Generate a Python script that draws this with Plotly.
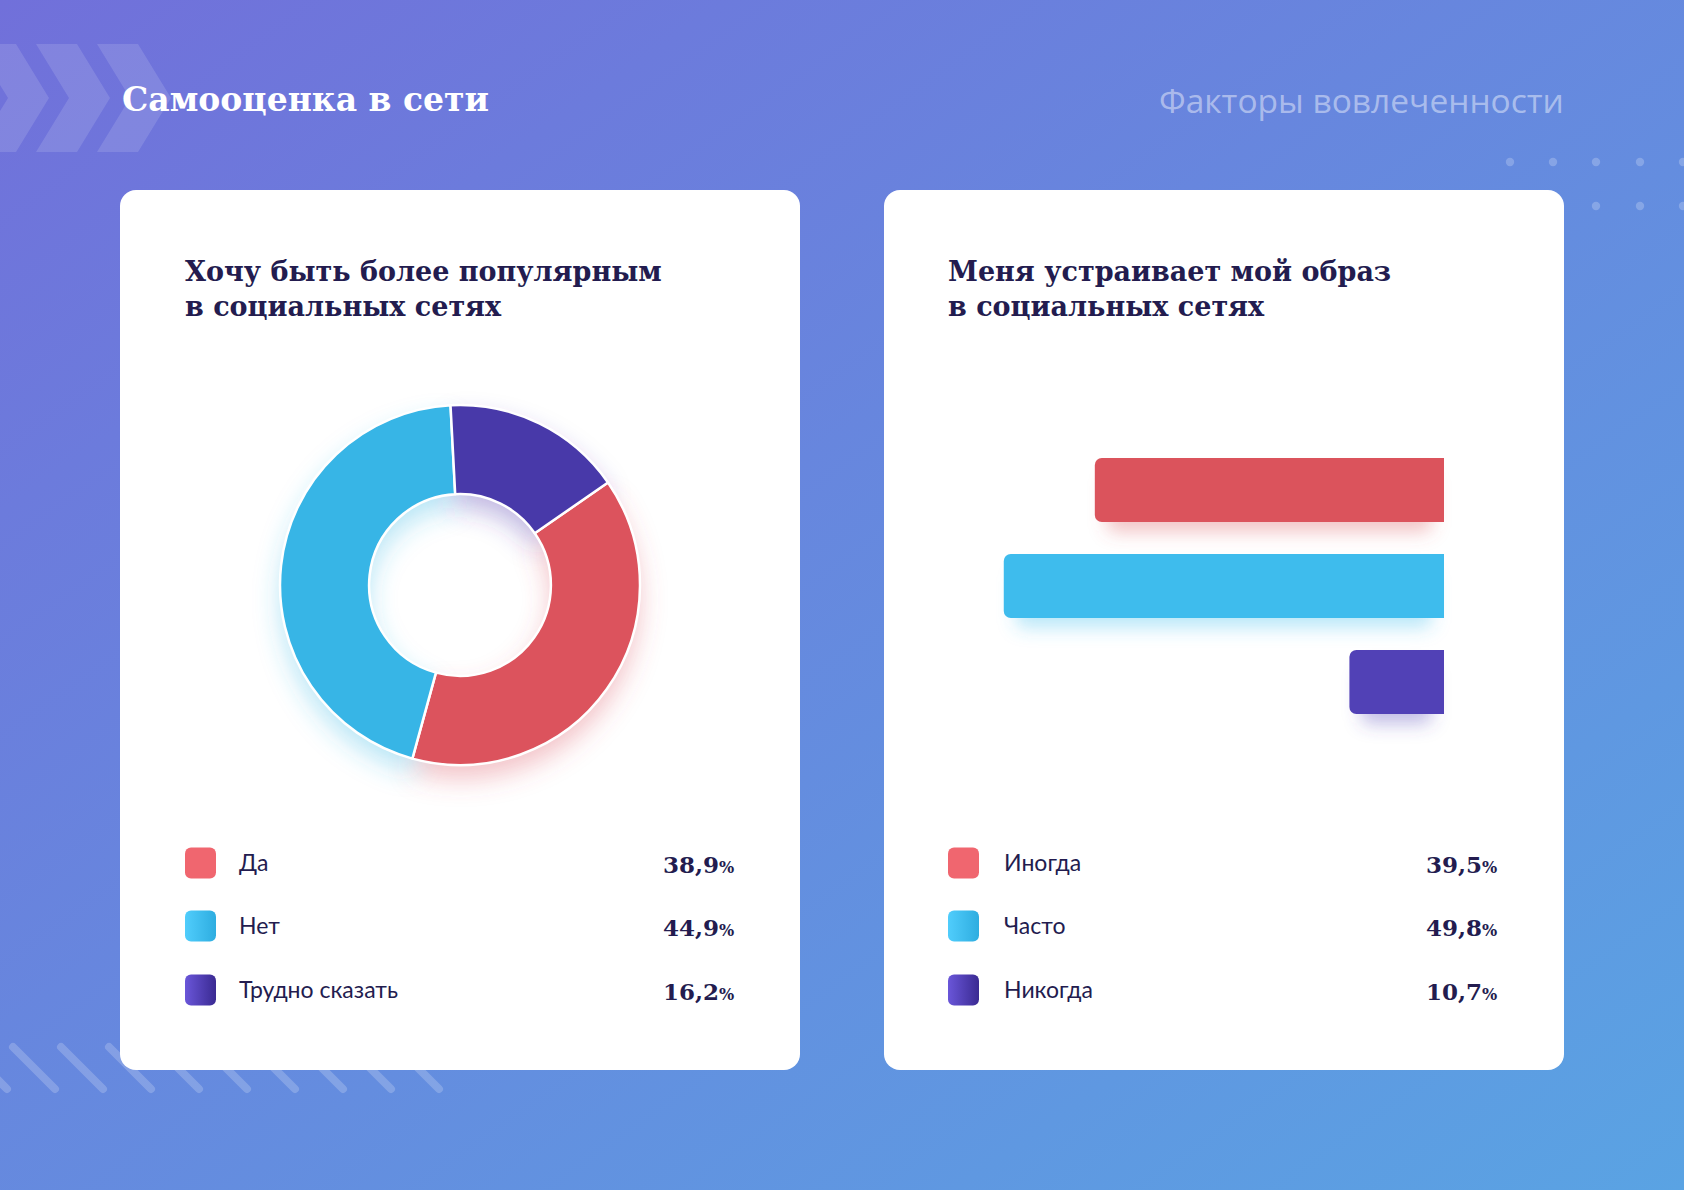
import math
import base64
import plotly.graph_objects as go

W, H = 1684, 1190

# ---------------- data ----------------
page_title = "Самооценка в сети"
page_subtitle = "Факторы вовлеченности"

pie_title = "Хочу быть более популярным<br>в социальных сетях"
pie_labels = ["Да", "Нет", "Трудно сказать"]
pie_values = [38.9, 44.9, 16.2]
pie_value_text = ["38,9", "44,9", "16,2"]
pie_colors = ["#dc535d", "#37b5e6", "#4839a9"]
pie_key_colors = [("#f0666f", "#f0666f"), ("#50cdfc", "#2eade0"), ("#6a56d9", "#3a2a92")]

bar_title = "Меня устраивает мой образ<br>в социальных сетях"
bar_labels = ["Иногда", "Часто", "Никогда"]
bar_values = [39.5, 49.8, 10.7]
bar_value_text = ["39,5", "49,8", "10,7"]
bar_colors = ["#db535c", "#3ebced", "#5141b6"]
bar_key_colors = [("#f0666f", "#f0666f"), ("#50cdfc", "#2eade0"), ("#6a56d9", "#3a2a92")]

# ---------------- layout geometry (pixels) ----------------
NAVY = "#231c4f"
PIE_CX, PIE_CY, PIE_R, PIE_HOLE = 460, 585, 180, 0.505
PIE_ROT = 55.3
BAR_RIGHT, BAR_SCALE, BAR_RANGE = 1444, 8.84, 50
BAR_TOP, BAR_STEP, BAR_H = 442, 96, 64


def fx(px):
    return px / W


def fy(py):
    return 1 - py / H


# ---------------- background svg (decoration) ----------------
parts = []
parts.append('<defs>'
             '<linearGradient id="bg" x1="0" y1="0" x2="1" y2="1">'
             '<stop offset="0" stop-color="#7170da"/>'
             '<stop offset="1" stop-color="#5aa3e3"/></linearGradient>'
             '<filter id="blur" x="-50%" y="-50%" width="200%" height="200%">'
             '<feGaussianBlur stdDeviation="13"/></filter>'
             '<filter id="blur2" x="-50%" y="-50%" width="200%" height="200%">'
             '<feGaussianBlur stdDeviation="9"/></filter>')
for i, (c1, c2) in enumerate(pie_key_colors + bar_key_colors):
    parts.append(f'<linearGradient id="k{i}" x1="0" y1="0" x2="1" y2="0">'
                 f'<stop offset="0" stop-color="{c1}"/><stop offset="1" stop-color="{c2}"/>'
                 '</linearGradient>')
parts.append('</defs>')
parts.append(f'<rect width="{W}" height="{H}" fill="url(#bg)"/>')

# chevrons
for k in range(3):
    x0 = -25 + 61 * k
    pts = [(x0, 44), (x0 + 41, 44), (x0 + 74, 98), (x0 + 41, 152), (x0, 152), (x0 + 33, 98)]
    parts.append('<polygon points="%s" fill="#ffffff" fill-opacity="0.13"/>'
                 % " ".join(f"{a},{b}" for a, b in pts))
# dots
for (dx, dy) in [(1510, 162), (1553, 162), (1596, 162), (1640, 162), (1683, 162),
                 (1596, 206), (1640, 206), (1683, 206)]:
    parts.append(f'<circle cx="{dx}" cy="{dy}" r="4.2" fill="#ffffff" fill-opacity="0.22"/>')
# stripes
for k in range(-1, 9):
    sx = 13 + 48 * k
    parts.append(f'<line x1="{sx}" y1="1047" x2="{sx + 42}" y2="1089" stroke="#ffffff" '
                 'stroke-opacity="0.2" stroke-width="8" stroke-linecap="round"/>')
# cards
for cx0 in (120, 884):
    parts.append(f'<rect x="{cx0}" y="190" width="680" height="880" rx="16" fill="#ffffff"/>')

# donut glow (derived from pie values)
tot = sum(pie_values)
a = PIE_ROT
gcx, gcy = PIE_CX, PIE_CY + 14
ri = PIE_R * PIE_HOLE
for v, c in zip(pie_values, pie_colors):
    a0 = math.radians(a)
    a1 = math.radians(a + 360 * v / tot)
    a += 360 * v / tot
    large = 1 if (a1 - a0) > math.pi else 0
    ox0, oy0 = gcx + PIE_R * math.sin(a0), gcy - PIE_R * math.cos(a0)
    ox1, oy1 = gcx + PIE_R * math.sin(a1), gcy - PIE_R * math.cos(a1)
    ix0, iy0 = gcx + ri * math.sin(a0), gcy - ri * math.cos(a0)
    ix1, iy1 = gcx + ri * math.sin(a1), gcy - ri * math.cos(a1)
    d = (f"M{ox0:.1f},{oy0:.1f} A{PIE_R},{PIE_R} 0 {large} 1 {ox1:.1f},{oy1:.1f} "
         f"L{ix1:.1f},{iy1:.1f} A{ri:.1f},{ri:.1f} 0 {large} 0 {ix0:.1f},{iy0:.1f} Z")
    parts.append(f'<path d="{d}" fill="{c}" fill-opacity="0.34" filter="url(#blur)"/>')

# bar glow (derived from bar values)
for i, (v, c) in enumerate(zip(bar_values, bar_colors)):
    x1 = BAR_RIGHT - v * BAR_SCALE
    y0 = BAR_TOP + i * BAR_STEP + (BAR_STEP - BAR_H) / 2
    parts.append(f'<rect x="{x1 + 12:.1f}" y="{y0 + 18:.1f}" width="{v * BAR_SCALE - 24:.1f}" '
                 f'height="{BAR_H - 8}" rx="8" fill="{c}" fill-opacity="0.35" filter="url(#blur2)"/>')

# legend keys
rows_y = [863, 926, 990]
for i, yy in enumerate(rows_y):
    parts.append(f'<rect x="185" y="{yy - 15.5}" width="31" height="31" rx="6" fill="url(#k{i})"/>')
    parts.append(f'<rect x="948" y="{yy - 15.5}" width="31" height="31" rx="6" fill="url(#k{i + 3})"/>')

svg = (f'<svg xmlns="http://www.w3.org/2000/svg" width="{W}" height="{H}" '
       f'viewBox="0 0 {W} {H}">' + "".join(parts) + '</svg>')
svg_uri = "data:image/svg+xml;base64," + base64.b64encode(svg.encode("utf-8")).decode("ascii")

# ---------------- figure ----------------
fig = go.Figure()

fig.add_trace(go.Pie(
    labels=pie_labels, values=pie_values, hole=PIE_HOLE, sort=False,
    direction="clockwise", rotation=PIE_ROT, textinfo="none",
    marker=dict(colors=pie_colors, line=dict(color="#ffffff", width=2.5)),
    domain=dict(x=[fx(PIE_CX - PIE_R), fx(PIE_CX + PIE_R)],
                y=[fy(PIE_CY + PIE_R), fy(PIE_CY - PIE_R)]),
    showlegend=False,
))

fig.add_trace(go.Bar(
    x=bar_values, y=bar_labels, orientation="h",
    marker=dict(color=bar_colors, cornerradius=7, line=dict(width=0)),
    showlegend=False, xaxis="x", yaxis="y",
))

annotations = []
annotations.append(dict(text=page_title, x=fx(120), y=fy(99), xanchor="left", yanchor="middle",
                        font=dict(family="DejaVu Serif", size=33, color="#ffffff", weight=700)))
annotations.append(dict(text=page_subtitle, x=fx(1566), y=fy(100), xanchor="right", yanchor="middle",
                        font=dict(family="Open Sans", size=33.5, color="rgba(255,255,255,0.45)")))
for tx, ttl in ((185, pie_title), (948, bar_title)):
    annotations.append(dict(text=ttl, x=fx(tx - 2), y=fy(289), xanchor="left", yanchor="middle",
                            align="left",
                            font=dict(family="DejaVu Serif", size=27, color=NAVY, weight=700)))

for labels, vals, lx, vx in ((pie_labels, pie_value_text, 237, 736),
                              (bar_labels, bar_value_text, 1002, 1499)):
    for i, (lab, val) in enumerate(zip(labels, vals)):
        annotations.append(dict(text=lab, x=fx(lx), y=fy(rows_y[i] - 1), xanchor="left",
                                yanchor="middle",
                                font=dict(family="Lato", size=23, color=NAVY)))
        annotations.append(dict(text=val + '<span style="font-size:16px">%</span>',
                                x=fx(vx), y=fy(rows_y[i] + 1), xanchor="right", yanchor="middle",
                                font=dict(family="DejaVu Serif", size=23, color=NAVY, weight=700)))
for an in annotations:
    an.update(xref="paper", yref="paper", showarrow=False)

fig.update_layout(
    width=W, height=H,
    margin=dict(l=0, r=0, t=0, b=0, pad=0),
    paper_bgcolor="#6a86dd",
    plot_bgcolor="rgba(0,0,0,0)",
    images=[dict(source=svg_uri, xref="paper", yref="paper", x=0, y=1, sizex=1, sizey=1,
                 xanchor="left", yanchor="top", sizing="stretch", layer="below")],
    xaxis=dict(domain=[fx(BAR_RIGHT - BAR_RANGE * BAR_SCALE), fx(BAR_RIGHT)],
               range=[BAR_RANGE, 0], visible=False, fixedrange=True),
    yaxis=dict(domain=[fy(BAR_TOP + 3 * BAR_STEP), fy(BAR_TOP)], type="category",
               range=[2.5, -0.5], visible=False, fixedrange=True),
    bargap=1 - BAR_H / BAR_STEP,
    annotations=annotations,
    hovermode=False,
)

fig.write_html("out.html", include_plotlyjs=True, config={"displayModeBar": False},
               post_script="document.body.style.margin='0';")
